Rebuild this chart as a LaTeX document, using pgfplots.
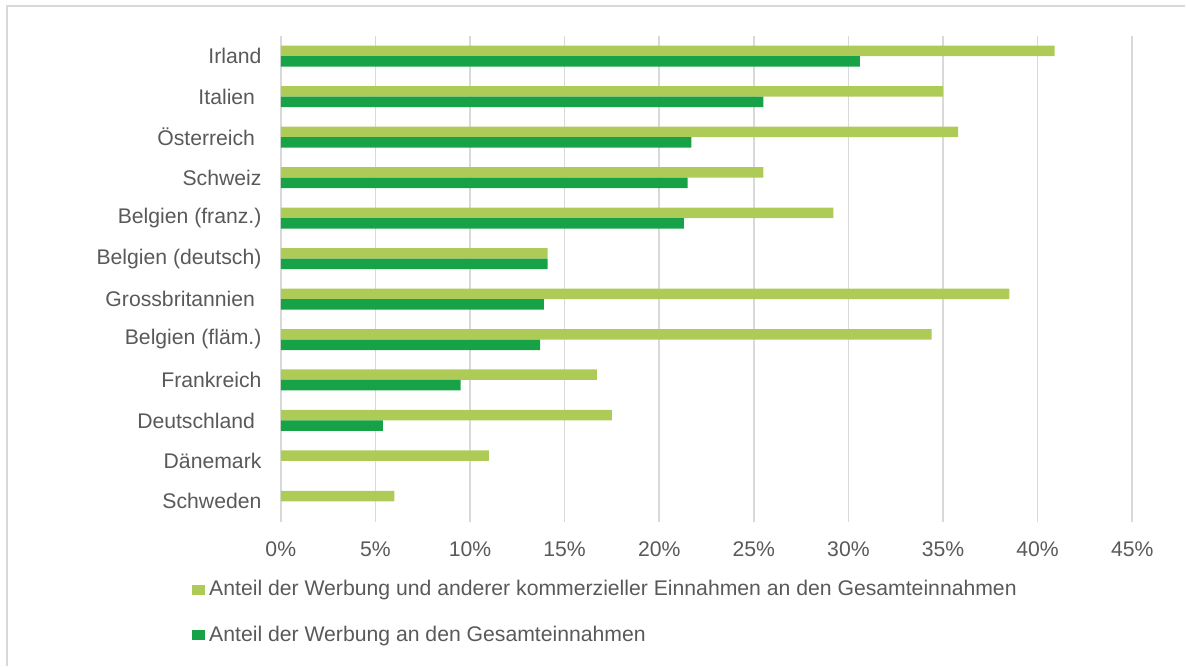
\documentclass[border=0pt]{standalone}
\usepackage{fontspec}
\setmainfont{Liberation Sans}
\usepackage{pgfplots}
\pgfplotsset{compat=1.18}

\definecolor{hell}{HTML}{AECB58}
\definecolor{dunkel}{HTML}{18A247}
\definecolor{gridgray}{HTML}{D9D9D9}
\definecolor{txt}{HTML}{595959}

\begin{document}
\begin{tikzpicture}
\begin{axis}[
  name=ax, scale only axis,
  width=426pt, height=243pt,
  font=\fontsize{10.6}{12.7}\selectfont,
  xbar, bar width=5.25pt,
  xmin=0, xmax=45, ymin=-0.5, ymax=11.5,
  xtick={0,5,...,45},
  xticklabels={0\%,5\%,10\%,15\%,20\%,25\%,30\%,35\%,40\%,45\%},
  ytick={0,...,11},
  % some labels carry a trailing blank in the source chart
  yticklabels={Schweden,Dänemark,{Deutschland\kern3.2pt},Frankreich,Belgien (fläm.),
    {Grossbritannien\kern3.2pt},Belgien (deutsch),Belgien (franz.),Schweiz,
    {Österreich\kern3.2pt},{Italien\kern3.2pt},Irland},
  major tick length=0pt,
  axis line style={draw=none},
  xmajorgrids, grid style={gridgray, line width=0.75pt},
  every tick label/.append style={text=txt},
  xticklabel style={anchor=base, yshift=-17.2pt},
  yticklabel style={anchor=east, inner sep=0pt, xshift=-9.5pt},
  legend cell align=left,
  legend style={at={(-0.1045,-0.112)}, anchor=north west, draw=none, fill=none,
    text=txt, row sep=9.5pt, inner sep=0pt,
    font=\fontsize{10.6}{12.7}\selectfont},
  legend image code/.code={\fill[#1] (0pt,-2.5pt) rectangle (6.5pt,2.5pt);},
]
\addplot[fill=hell, draw=none, bar shift=2.625pt] coordinates {
  (6.0,0) (11.0,1) (17.5,2) (16.7,3) (34.4,4) (38.5,5)
  (14.1,6) (29.2,7) (25.5,8) (35.8,9) (35.0,10) (40.9,11)};
\addplot[fill=dunkel, draw=none, bar shift=-2.625pt] coordinates {
  (5.4,2) (9.5,3) (13.7,4) (13.9,5)
  (14.1,6) (21.3,7) (21.5,8) (21.7,9) (25.5,10) (30.6,11)};
\legend{Anteil der Werbung und anderer kommerzieller Einnahmen an den Gesamteinnahmen,
  Anteil der Werbung an den Gesamteinnahmen}
\end{axis}
% page size and the visible part of the frame
\path ([shift={(-140.5pt,-72pt)}]ax.south west) rectangle ([shift={(452.5pt,261pt)}]ax.south west);
\draw[gridgray, line width=0.8pt]
  ([shift={(-137pt,-72pt)}]ax.south west) -- ([shift={(-137pt,258pt)}]ax.south west)
  -- ([shift={(452.5pt,258pt)}]ax.south west);
\end{tikzpicture}
\end{document}
